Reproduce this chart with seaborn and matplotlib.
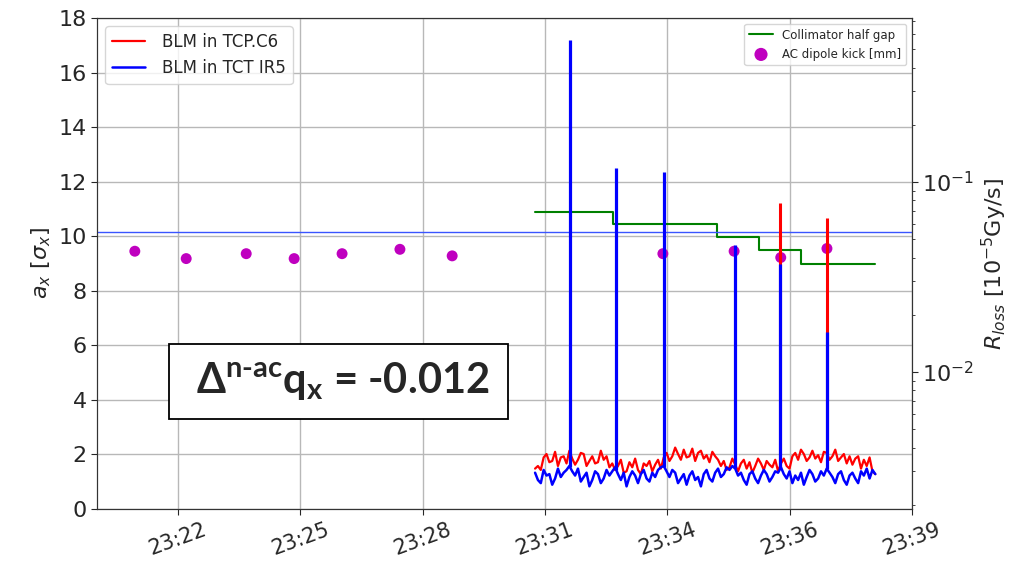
import numpy as np
import matplotlib
matplotlib.use("Agg")
import matplotlib.pyplot as plt
import seaborn as sns

# ---------------- data ----------------
# time axis in minutes after 23:00
tick_pos = [22.75, 25.583, 28.417, 31.25, 34.083, 36.917, 39.75]
tick_labels = ["23:22", "23:25", "23:28", "23:31", "23:34", "23:36", "23:39"]

# AC dipole kick amplitudes [sigma_x]
kick_t = [21.75, 22.94, 24.33, 25.44, 26.55, 27.89, 29.10, 33.98, 35.63, 36.71, 37.78]
kick_a = [9.45, 9.18, 9.36, 9.18, 9.36, 9.52, 9.28, 9.36, 9.45, 9.22, 9.55]

# collimator half gap [sigma_x] (step changes)
gap_t = [31.02, 32.83, 35.24, 36.21, 37.17, 38.90]
gap_v = [10.89, 10.44, 9.96, 9.49, 9.00, 9.00]

# BLM reference level (left scale)
blm_ref_level = 10.15

# BLM background loss rates [1e-3 x 1e-5 Gy/s]
blm_t_start, blm_t_end = 31.02, 38.90
tcp_c6 = [
    3.1, 3.2, 3.05, 3.55, 3.7, 3.35, 3.4, 3.8, 3.2, 3.55, 3.6, 3.3, 3.85, 3.5, 3.25,
    3.45, 3.75, 3.7, 3.2, 3.4, 3.6, 3.3, 3.35, 3.85, 3.45, 3.6, 3.15,
    3.3, 3.05, 3.2, 3.45, 2.95, 3.0, 3.35, 3.15, 3.5, 3.05, 2.9, 3.3, 3.2, 3.4, 3.0,
    3.25, 3.45, 3.1,
    3.55, 3.75, 3.4, 3.6, 4.0, 3.7, 3.45, 3.9, 3.55, 3.6, 3.95, 3.4, 3.75, 3.85, 3.5,
    3.65, 3.35, 3.8, 3.6, 3.45,
    3.2, 3.4, 3.05, 3.15, 3.5, 3.25, 3.0, 3.3, 3.45, 3.1, 3.35, 2.95, 3.2, 3.5, 3.3,
    3.05, 3.4, 3.25, 3.15, 3.45, 3.0, 3.3, 3.5, 3.2, 3.1,
    3.6, 3.75, 3.45, 3.9, 3.7, 3.4, 3.55, 3.85, 3.5, 3.65, 3.35, 3.8, 3.75, 3.45, 3.6,
    3.9, 3.4, 3.55, 3.7, 3.3, 3.6,
    3.25, 3.5, 3.6, 3.1, 3.45, 3.2, 3.55, 3.0, 2.9,
]
tct_ir5 = [
    2.95, 2.7, 2.6, 3.05, 2.85, 2.9, 2.55, 2.75, 3.1, 2.8, 2.95, 3.05,
    3.2, 3.0, 2.85, 3.1, 2.65, 2.8, 2.95, 2.5, 2.7, 3.0, 2.9, 2.6, 2.75, 3.05, 2.85, 3.0,
    3.15, 2.9, 2.7, 2.95, 2.5, 2.8, 3.0, 2.85, 2.6, 2.9, 3.05, 2.75, 2.65, 2.95, 2.8,
    3.05, 3.15,
    3.2, 3.0, 2.8, 3.05, 2.95, 2.6, 2.75, 2.9, 2.55, 2.85, 3.0, 2.7, 2.8, 2.5, 2.9,
    3.05, 2.75, 2.65, 2.95, 3.1, 2.8, 2.9, 3.15, 3.05, 3.2,
    3.1, 2.85, 2.95, 2.7, 2.55, 2.9, 3.0, 2.75, 2.6, 2.85, 3.05, 2.9, 2.65, 2.8, 3.0, 2.95,
    3.15, 2.9, 2.75, 3.0, 2.6, 2.85, 2.7, 2.95, 2.55, 2.8, 3.05, 2.9, 2.65, 2.75, 3.0, 2.85,
    3.1, 2.95, 2.8, 2.6, 2.9, 3.0, 2.7, 2.55, 2.85, 2.95, 2.75, 2.6, 3.0, 2.85, 3.1,
    2.75, 3.05, 2.9,
]

# BLM loss spikes at the kicks [1e-5 Gy/s]
tct_spike_t = [31.83, 32.90, 34.01, 35.65, 36.69, 37.78]
tct_spike_peak = [0.56, 0.118, 0.113, 0.0466, 0.037, 0.0162]
tcp_spike_t = [36.69, 37.78]
tcp_spike_peak = [0.0775, 0.0646]

# ---------------- style ----------------
sns.set_style("ticks")
plt.rcParams["font.family"] = ["DejaVu Sans"]
plt.rcParams["mathtext.rm"] = "Lato:bold"
plt.rcParams["mathtext.it"] = "Lato:bold"
plt.rcParams["mathtext.bf"] = "Lato:bold"
plt.rcParams["mathtext.sf"] = "Lato:bold"

fig = plt.figure(figsize=(10.30, 5.69), dpi=100)
ax = fig.add_axes([97 / 1030, 1 - 509 / 569, (912 - 97) / 1030, (509 - 18) / 569])
ax2 = ax.twinx()

blm_t = np.linspace(blm_t_start, blm_t_end, len(tcp_c6))
tcp = np.array(tcp_c6) * 1e-3
tct = np.array(tct_ir5) * 1e-3

# left axis: amplitudes & collimator gap
sns.lineplot(x=gap_t, y=gap_v, ax=ax, color="green", lw=1.5,
             drawstyle="steps-post", label="Collimator half gap", estimator=None, sort=False)
sns.scatterplot(x=kick_t, y=kick_a, ax=ax, color="m", s=62, edgecolor="none",
                label="AC dipole kick [mm]", zorder=3)
ax.axhline(blm_ref_level, color="#3a55ff", lw=1.0)

# right axis: BLM signals
sns.lineplot(x=blm_t, y=tcp, ax=ax2, color="red", lw=1.6, label="BLM in TCP.C6",
             estimator=None, sort=False)
ax2.vlines(tcp_spike_t, np.interp(tcp_spike_t, blm_t, tcp), tcp_spike_peak,
           color="red", lw=2.2)
sns.lineplot(x=blm_t, y=tct, ax=ax2, color="blue", lw=1.8, label="BLM in TCT IR5",
             estimator=None, sort=False)
ax2.vlines(tct_spike_t, np.interp(tct_spike_t, blm_t, tct), tct_spike_peak,
           color="blue", lw=2.3)
ax2.set_yscale("log")
ax2.set_ylim(0.0019, 0.73)

# axes formatting
ax.set_xlim(20.874, 39.75)
ax.set_ylim(0, 18)
ax.set_yticks(np.arange(0, 19, 2))
ax.set_xticks(tick_pos)
ax.set_xticklabels(tick_labels, rotation=20, fontsize=15)
ax.tick_params(axis="y", labelsize=16, direction="out", length=4)
ax.tick_params(axis="x", direction="out", length=4)
ax2.tick_params(axis="y", which="major", labelsize=16, direction="out", length=4)
ax2.tick_params(axis="y", which="minor", direction="out", length=2)
ax.grid(True, color="#b8b8b8", lw=1.0)
ax.set_axisbelow(True)
ax.set_xlabel("")
ax.set_ylabel(r"$a_x$ [$\sigma_x$]", fontsize=16, math_fontfamily="dejavusans")
ax2.set_ylabel(r"$R_{loss}$ [$10^{-5}$Gy/s]", fontsize=16, math_fontfamily="dejavusans")
for a in (ax, ax2):
    for s in a.spines.values():
        s.set_color("#333333")

ax2.legend(loc="upper left", fontsize=12, framealpha=0.8, handletextpad=1.0)
ax.legend(loc="upper right", fontsize=8.5, framealpha=0.8, markerscale=1.2)

ax.text(0.296, 0.26, r" $\Delta^{\mathrm{n\text{-}ac}}\mathrm{q}_{\mathrm{x}}$ = -0.012 ",
        transform=ax.transAxes, ha="center", va="center", fontsize=30,
        fontfamily="Lato", fontweight="bold", math_fontfamily="custom",
        bbox=dict(boxstyle="square,pad=0.4", facecolor="white", edgecolor="black", lw=1.3),
        zorder=10)

fig.savefig("out.png", dpi=100)
